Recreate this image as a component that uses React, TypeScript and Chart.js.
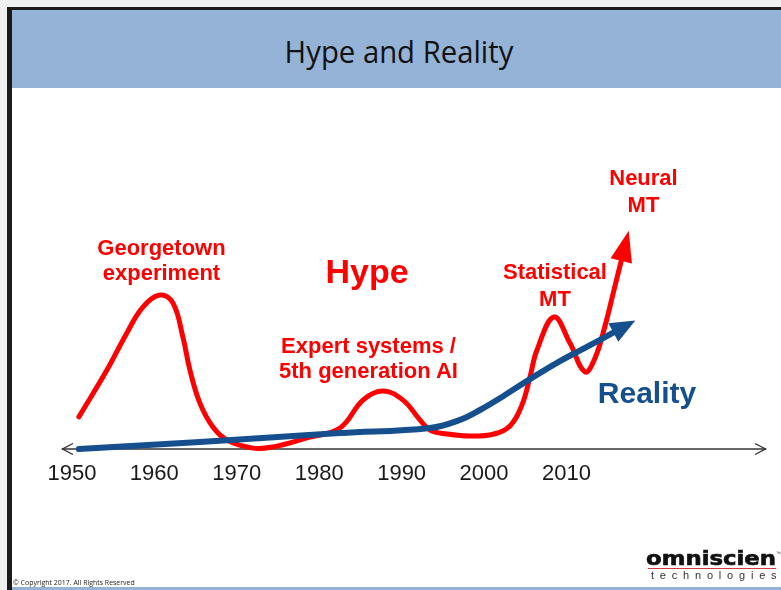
import React, { useEffect, useRef } from "react";
import { Chart, registerables } from "chart.js";

Chart.register(...registerables);

// ---- data ----
const yearTicks = [1950, 1960, 1970, 1980, 1990, 2000, 2010];

const hypeYears = [
  1950.85, 1954.25, 1956.67, 1958.61, 1960.68, 1962.25, 1963.47, 1964.32, 1965.53, 1967.11,
  1968.81, 1971.96, 1974.39, 1978.51, 1982.52, 1985.31, 1987.73, 1990.16, 1992.22, 1993.44,
  1995.5, 1998.29, 2001.2, 2003.14, 2004.6, 2005.57, 2006.42, 2008.48, 2010.42, 2012.24,
  2013.46, 2014.67, 2015.76, 2016.73,
];
const hypeValues = [
  10.7, 26.3, 38.7, 47.3, 51.3, 48.7, 37.3, 26.3, 15.3, 7.3,
  3.0, 0.3, 0.7, 3.7, 7.0, 16.3, 19.3, 16.3, 9.7, 6.3,
  5.0, 4.3, 5.0, 7.7, 14.7, 24.0, 33.0, 44.0, 35.3, 25.7,
  30.3, 41.0, 53.0, 63.7,
];

const realityYears = [
  1950.85, 1965.53, 1982.52, 1993.44, 1997.08, 1999.5, 2002.54, 2005.57, 2009.21, 2012.24, 2016.0,
];
const realityValues = [0, 2.3, 5.3, 7.0, 9.7, 13.0, 18.0, 23.3, 29.3, 33.7, 39.3];

const X_MIN = 1948.8;
const X_MAX = 2034.2;
const Y_MIN = 0;
const Y_MAX = 100;

const RED = "#fe0000";
const BLUE = "#164f8d";

const axisArrowPlugin = {
  id: "axisArrow",
  beforeDatasetsDraw(chart: any) {
    const { ctx, chartArea } = chart;
    const y = chart.scales.y.getPixelForValue(0);
    ctx.save();
    ctx.strokeStyle = "#333333";
    ctx.lineWidth = 1.4;
    ctx.beginPath();
    ctx.moveTo(chartArea.left, y);
    ctx.lineTo(chartArea.right, y);
    ctx.stroke();
    ctx.beginPath();
    ctx.moveTo(chartArea.left + 11, y - 5.5);
    ctx.lineTo(chartArea.left + 0.5, y);
    ctx.lineTo(chartArea.left + 11, y + 5.5);
    ctx.moveTo(chartArea.right - 11, y - 5.5);
    ctx.lineTo(chartArea.right - 0.5, y);
    ctx.lineTo(chartArea.right - 11, y + 5.5);
    ctx.stroke();
    ctx.restore();
  },
  afterDatasetsDraw(chart: any) {
    const { ctx } = chart;
    chart.data.datasets.forEach((ds: any, i: number) => {
      const meta = chart.getDatasetMeta(i);
      const pts = meta.data;
      if (!pts || pts.length < 2) return;
      const last = pts[pts.length - 1];
      let dx = last.x - (last.cp1x ?? pts[pts.length - 2].x);
      let dy = last.y - (last.cp1y ?? pts[pts.length - 2].y);
      if (!isFinite(dx) || !isFinite(dy) || Math.hypot(dx, dy) < 0.01) {
        dx = last.x - pts[pts.length - 2].x;
        dy = last.y - pts[pts.length - 2].y;
      }
      const len = Math.hypot(dx, dy);
      const ux = dx / len;
      const uy = dy / len;
      const L = ds.arrowLength;
      const H = ds.arrowHalfWidth;
      const bx = last.x - ux * 3;
      const by = last.y - uy * 3;
      const tx = bx + ux * L;
      const ty = by + uy * L;
      ctx.save();
      ctx.fillStyle = ds.borderColor;
      ctx.beginPath();
      ctx.moveTo(tx, ty);
      ctx.lineTo(bx - uy * H, by + ux * H);
      ctx.lineTo(bx + uy * H, by - ux * H);
      ctx.closePath();
      ctx.fill();
      ctx.restore();
    });
  },
};

function Label(props: {
  cx: number;
  baseline: number;
  size: number;
  color: string;
  lines: string[];
  lh: number;
  weight?: string;
}) {
  const { cx, baseline, size, color, lines, lh, weight } = props;
  const top = baseline - ((lh - 1.117 * size) / 2 + 0.905 * size);
  return (
    <div
      style={{
        position: "absolute",
        left: cx - 200,
        width: 400,
        top,
        textAlign: "center",
        fontFamily: "'Liberation Sans', Arial, Helvetica, sans-serif",
        fontWeight: weight ?? "bold",
        fontSize: size,
        lineHeight: lh + "px",
        color,
        whiteSpace: "nowrap",
      }}
    >
      {lines.map((l, i) => (
        <div key={i}>{l}</div>
      ))}
    </div>
  );
}

export default function App() {
  const canvasRef = useRef<HTMLCanvasElement | null>(null);

  useEffect(() => {
    const canvas = canvasRef.current;
    if (!canvas) return;
    const chart = new Chart(canvas, {
      type: "line",
      data: {
        datasets: [
          {
            label: "Reality",
            data: realityYears.map((x, i) => ({ x, y: realityValues[i] })),
            borderColor: BLUE,
            backgroundColor: BLUE,
            borderWidth: 6,
            pointRadius: 0,
            tension: 0.4,
            borderCapStyle: "round",
            borderJoinStyle: "round",
            clip: false,
            order: 0,
            arrowLength: 25,
            arrowHalfWidth: 10.5,
          } as any,
          {
            label: "Hype",
            data: hypeYears.map((x, i) => ({ x, y: hypeValues[i] })),
            borderColor: RED,
            backgroundColor: RED,
            borderWidth: 5,
            pointRadius: 0,
            tension: 0.4,
            borderCapStyle: "round",
            borderJoinStyle: "round",
            clip: false,
            order: 1,
            arrowLength: 31,
            arrowHalfWidth: 11,
          } as any,
        ],
      },
      options: {
        animation: false,
        responsive: false,
        devicePixelRatio: 1,
        events: [],
        layout: { padding: { left: 62, right: 15, top: 149, bottom: 101 } },
        elements: { line: { capBezierPoints: false } },
        plugins: {
          legend: { display: false },
          tooltip: { enabled: false },
          title: { display: false },
        },
        scales: {
          x: {
            type: "linear",
            min: X_MIN,
            max: X_MAX,
            grid: { display: false, drawTicks: false },
            border: { display: false },
            afterBuildTicks: (scale: any) => {
              scale.ticks = yearTicks.map((v) => ({ value: v }));
            },
            afterFit: (scale: any) => {
              scale.height = 40;
            },
            ticks: {
              autoSkip: false,
              maxRotation: 0,
              padding: 12,
              color: "#1a1a1a",
              font: { family: "'Liberation Sans', Arial, Helvetica, sans-serif", size: 22 },
              callback: (v: any) => String(v),
            },
          },
          y: {
            type: "linear",
            display: false,
            min: Y_MIN,
            max: Y_MAX,
          },
        },
      },
      plugins: [axisArrowPlugin],
    } as any);
    return () => chart.destroy();
  }, []);

  return (
    <div
      style={{
        position: "absolute",
        left: 0,
        top: 0,
        width: 781,
        height: 590,
        overflow: "hidden",
        background: "#f0f0f0",
      }}
    >
      {/* slide frame */}
      <div
        style={{
          position: "absolute",
          left: 7,
          top: 7,
          width: 781 - 7,
          height: 590 - 7,
          background: "#1b1b1b",
        }}
      />
      <div
        style={{
          position: "absolute",
          left: 12,
          top: 10,
          width: 781 - 12,
          height: 590 - 10,
          background: "#ffffff",
        }}
      />
      {/* title bar */}
      <div
        style={{
          position: "absolute",
          left: 12,
          top: 10,
          width: 781 - 12,
          height: 78,
          background: "#95b3d7",
        }}
      />
      <div
        style={{
          position: "absolute",
          left: 398.5,
          top: 31,
          transform: "translateX(-50%) scaleX(0.93)",
          fontFamily: "'Open Sans', 'Noto Sans', sans-serif",
          fontSize: 31.5,
          lineHeight: "40px",
          color: "#111111",
          whiteSpace: "nowrap",
        }}
      >
        Hype and Reality
      </div>
      {/* bottom rule */}
      <div
        style={{
          position: "absolute",
          left: 12,
          top: 587,
          width: 781 - 12,
          height: 3,
          background: "#95b3d7",
        }}
      />

      <canvas
        ref={canvasRef}
        width={781}
        height={590}
        style={{ position: "absolute", left: 0, top: 0, width: 781, height: 590 }}
      />

      {/* annotations */}
      <Label cx={161.5} baseline={255} size={22} color={RED} lines={["Georgetown", "experiment"]} lh={25} />
      <Label cx={367} baseline={283} size={34} color={RED} lines={["Hype"]} lh={38} />
      <Label
        cx={368.5}
        baseline={353}
        size={22}
        color={RED}
        lines={["Expert systems /", "5th generation AI"]}
        lh={25.5}
      />
      <Label cx={555} baseline={279} size={22} color={RED} lines={["Statistical", "MT"]} lh={27} />
      <Label cx={643.5} baseline={185} size={22} color={RED} lines={["Neural", "MT"]} lh={27.5} />
      <Label cx={647} baseline={403} size={30} color={BLUE} lines={["Reality"]} lh={34} />

      {/* footer */}
      <div
        style={{
          position: "absolute",
          left: 13,
          top: 577,
          transform: "scaleX(0.87)",
          transformOrigin: "left center",
          fontFamily: "'Open Sans', 'Noto Sans', sans-serif",
          fontSize: 8,
          lineHeight: "10px",
          color: "#222222",
          whiteSpace: "nowrap",
        }}
      >
        © Copyright 2017. All Rights Reserved
      </div>
      <div
        style={{
          position: "absolute",
          left: 646,
          top: 545,
          transform: "scaleX(1.2)",
          transformOrigin: "left center",
          fontFamily: "'DejaVu Sans', sans-serif",
          fontWeight: "bold",
          fontSize: 19,
          lineHeight: "26px",
          color: "#111111",
          whiteSpace: "nowrap",
          WebkitTextStroke: "0.6px #111111",
        }}
      >
        omniscien
      </div>
      <div
        style={{
          position: "absolute",
          left: 776,
          top: 550,
          fontFamily: "'Liberation Sans', sans-serif",
          fontSize: 5,
          color: "#333",
        }}
      >
        ™
      </div>
      <div
        style={{
          position: "absolute",
          left: 648,
          top: 568,
          width: 128,
          height: 1,
          background: "#d43a3a",
        }}
      />
      <div
        style={{
          position: "absolute",
          left: 651,
          top: 569,
          fontFamily: "'Liberation Sans', sans-serif",
          fontSize: 11,
          lineHeight: "13px",
          letterSpacing: "5.8px",
          color: "#333333",
          whiteSpace: "nowrap",
        }}
      >
        technologies
      </div>
    </div>
  );
}
